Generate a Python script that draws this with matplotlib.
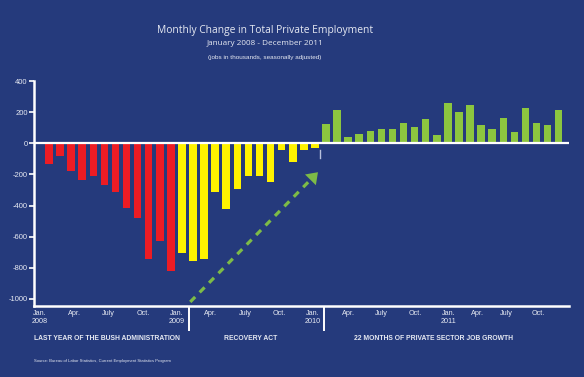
import matplotlib
matplotlib.use("Agg")
import matplotlib.pyplot as plt
import numpy as np

# ---- data (thousands of jobs, monthly change) ----
bush_2008 = [-130, -81, -177, -235, -209, -271, -312, -417, -479, -746, -628, -818]
recovery = [-707, -756, -746, -316, -419, -295, -212, -209, -248, -45, -117, -45, -30]
growth = [122, 212, 41, 58, 79, 94, 94, 130, 103, 154, 56, 261, 199, 244, 115,
          94, 162, 70, 226, 133, 120, 212]
month_labels = ["Jan.\n2008", "Apr.", "July", "Oct.", "Jan.\n2009", "Apr.", "July", "Oct.",
                "Jan.\n2010", "Apr.", "July", "Oct.", "Jan.\n2011", "Apr.", "July", "Oct."]
y_ticks = [400, 200, 0, -200, -400, -600, -800, -1000]
section_labels = ["LAST YEAR OF THE BUSH ADMINISTRATION", "RECOVERY ACT",
                  "22 MONTHS OF PRIVATE SECTOR JOB GROWTH"]

BG = "#253a7c"
RED = "#ec1c24"
YELLOW = "#fff200"
GREEN = "#8cc63f"
ARROW = "#7dbb47"
TXT = "#e6e9f2"

W, H = 584, 377
fig = plt.figure(figsize=(W / 100, H / 100), dpi=100, facecolor=BG)

def fx(px):
    return px / W

def fy(py):
    return 1 - py / H

ax = fig.add_axes([fx(34), fy(306), fx(569) - fx(34), fy(81) - fy(306)])
ax.set_facecolor(BG)

n1, n2, n3 = len(bush_2008), len(recovery), len(growth)
x1 = np.arange(n1)
x2 = np.arange(n1, n1 + n2)
x3 = np.arange(n1 + n2, n1 + n2 + n3)
bw = 0.68
ax.bar(x1, bush_2008, width=bw, color=RED, zorder=2)
ax.bar(x2, recovery, width=bw, color=YELLOW, zorder=2)
ax.bar(x3, growth, width=bw, color=GREEN, zorder=2)

ax.set_xlim(-1.35, 46.93)
ax.set_ylim(-1045, 400)
ax.axhline(0, color="white", lw=1.6, zorder=3)

for s in ["top", "right"]:
    ax.spines[s].set_visible(False)
for s in ["left", "bottom"]:
    ax.spines[s].set_color("white")
    ax.spines[s].set_linewidth(1.8)

ax.set_yticks(y_ticks)
ax.set_yticklabels([str(v) for v in y_ticks], family="Liberation Sans")
ax.tick_params(axis="y", colors="white", labelcolor=TXT, labelsize=5.5,
               length=3.5, width=1.2, pad=1)
ax.set_xticks([])

# month labels (hand-placed positions in the original)
label_pos = [-0.8, 2.3, 5.35, 8.5, 11.55, 14.6, 17.7, 20.8, 23.8, 27.0, 30.0, 33.1,
             36.1, 38.7, 41.3, 44.2]
xt = ax.get_xaxis_transform()
for p, lab in zip(label_pos, month_labels):
    ax.text(p, -0.018, lab, transform=xt, ha="center", va="top", color=TXT,
            fontsize=5.2, family="Liberation Sans", linespacing=1.15, clip_on=False)

# year separators
for p in [n1 + 0.6, n1 + n2 - 0.2]:
    ax.plot([p, p], [0, -0.113], transform=xt, color="white", lw=1.4,
            clip_on=False, solid_capstyle="butt")

# small mark below zero line
ax.plot([24.5, 24.5], [-45, -92], color="#b8c0dc", lw=1.0, zorder=3)

# dashed arrow
start = (12.75, -1019)
tip = (24.45, -173)
pre = (start[0] + (tip[0] - start[0]) * 0.94, start[1] + (tip[1] - start[1]) * 0.94)
ax.plot([start[0], pre[0]], [start[1], pre[1]], color=ARROW, lw=2.3,
        dashes=(2.2, 2.0), zorder=4, clip_on=False)
ax.annotate("", xy=tip, xytext=pre,
            arrowprops=dict(arrowstyle="-|>,head_length=0.7,head_width=0.5",
                            color=ARROW, lw=0, mutation_scale=11), zorder=4)

# titles
fig.text(fx(265), fy(30), "Monthly Change in Total Private Employment", ha="center",
         va="center", color=TXT, fontsize=7.4, family="Open Sans")
fig.text(fx(265), fy(43.5), "January 2008 - December 2011", ha="center", va="center",
         color=TXT, fontsize=5.9, family="Open Sans")
fig.text(fx(265), fy(57), "(jobs in thousands, seasonally adjusted)", ha="center",
         va="center", color=TXT, fontsize=4.6, family="Liberation Sans")

# section labels
fig.text(fx(34), fy(338), section_labels[0], ha="left", va="center", color=TXT,
         fontsize=4.9, fontweight="bold", family="Liberation Sans")
fig.text(fx(251), fy(338), section_labels[1], ha="center", va="center", color=TXT,
         fontsize=4.9, fontweight="bold", family="Liberation Sans")
fig.text(fx(433), fy(338), section_labels[2], ha="center", va="center", color=TXT,
         fontsize=4.9, fontweight="bold", family="Liberation Sans")

fig.text(fx(34), fy(361), "Source: Bureau of Labor Statistics, Current Employment Statistics Program",
         ha="left", va="center", color=TXT, fontsize=3.0, family="Liberation Sans")

fig.savefig("out.png", dpi=100, facecolor=BG)
